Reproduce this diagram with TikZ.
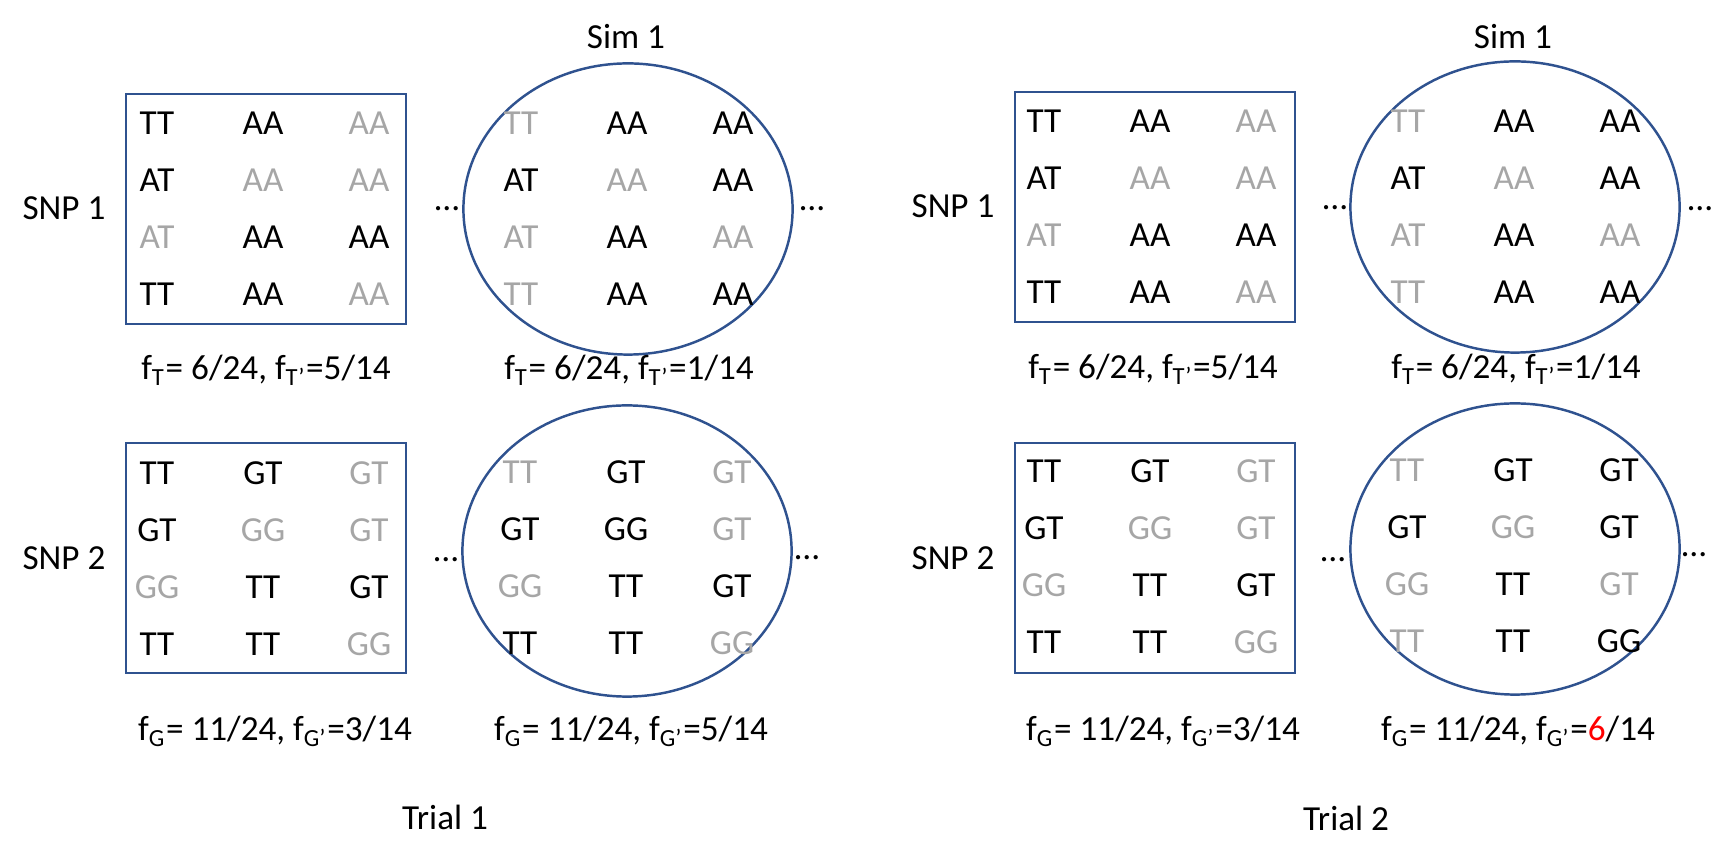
\documentclass[tikz,border=0pt]{standalone}
\usepackage{fontspec}
\setmainfont{Carlito}
\usetikzlibrary{shapes.geometric}
\definecolor{outline}{RGB}{47,82,143}
\definecolor{faded}{RGB}{166,166,166}

\begin{document}
\begin{tikzpicture}[x=0.01cm, y=-0.01cm, every node/.style={font=\fontsize{10}{12}\selectfont, inner sep=0pt},
    panel/.style={draw=outline, line width=0.7pt, rectangle, minimum width=2.80cm, minimum height=2.30cm},
    sim/.style={draw=outline, line width=0.7pt, ellipse, minimum width=3.29cm, minimum height=2.91cm},
    caption/.style={anchor=base}]

        \useasboundingbox (0,0) rectangle (1734,862);

        %===========================
        % Trial 1
        %===========================

        \node (P11) at (266,209) [panel] {};
        \node (E11) at (628,209) [sim] {};
        \node (P12) at (266,558) [panel] {};
        \node (E12) at (627,551) [sim] {};

        \node (S11) at (64,208) {SNP 1};
        \node (S12) at (64,558) {SNP 2};
        \node (M1) at (626,49) [caption] {Sim 1};
        \node (T1) at (445,830) [caption] {Trial 1};

        \node (D11a) at (447,211) [caption] {…};
        \node (D11b) at (812,211) [caption] {…};
        \node (D12a) at (446,562) [caption] {…};
        \node (D12b) at (807,560) [caption] {…};

        \node (F11) at (266,380) [caption] {f\textsubscript{T}= 6/24, f\textsubscript{T’}=5/14};
        \node (G11) at (629,380) [caption] {f\textsubscript{T}= 6/24, f\textsubscript{T’}=1/14};
        \node (F12) at (275,741) [caption] {f\textsubscript{G}= 11/24, f\textsubscript{G’}=3/14};
        \node (G12) at (631,741) [caption] {f\textsubscript{G}= 11/24, f\textsubscript{G’}=5/14};

        % genotypes, row by row
        \foreach \g/\c [count=\i from 0] in {TT/black,AA/black,AA/faded,AT/black,AA/faded,AA/faded,AT/faded,AA/black,AA/black,TT/black,AA/black,AA/faded}{
            \pgfmathtruncatemacro{\row}{\i/3}
            \pgfmathtruncatemacro{\col}{mod(\i,3)}
            \node (A11-\i) at ({263+(\col-1)*106},{209+(\row-1.5)*57}) [text=\c] {\g};
        }
        \foreach \g/\c [count=\i from 0] in {TT/faded,AA/black,AA/black,AT/black,AA/faded,AA/black,AT/faded,AA/black,AA/faded,TT/faded,AA/black,AA/black}{
            \pgfmathtruncatemacro{\row}{\i/3}
            \pgfmathtruncatemacro{\col}{mod(\i,3)}
            \node (B11-\i) at ({627+(\col-1)*106},{209+(\row-1.5)*57}) [text=\c] {\g};
        }
        \foreach \g/\c [count=\i from 0] in {TT/black,GT/black,GT/faded,GT/black,GG/faded,GT/faded,GG/faded,TT/black,GT/black,TT/black,TT/black,GG/faded}{
            \pgfmathtruncatemacro{\row}{\i/3}
            \pgfmathtruncatemacro{\col}{mod(\i,3)}
            \node (A12-\i) at ({263+(\col-1)*106},{559+(\row-1.5)*57}) [text=\c] {\g};
        }
        \foreach \g/\c [count=\i from 0] in {TT/faded,GT/black,GT/faded,GT/black,GG/black,GT/faded,GG/faded,TT/black,GT/black,TT/black,TT/black,GG/faded}{
            \pgfmathtruncatemacro{\row}{\i/3}
            \pgfmathtruncatemacro{\col}{mod(\i,3)}
            \node (B12-\i) at ({626+(\col-1)*106},{558+(\row-1.5)*57}) [text=\c] {\g};
        }

        %===========================
        % Trial 2
        %===========================

        \node (P21) at (1155,207) [panel] {};
        \node (E21) at (1515,207) [sim] {};
        \node (P22) at (1155,558) [panel] {};
        \node (E22) at (1515,549) [sim] {};

        \node (S21) at (953,206) {SNP 1};
        \node (S22) at (953,558) {SNP 2};
        \node (M2) at (1513,49) [caption] {Sim 1};
        \node (T2) at (1346,831) [caption] {Trial 2};

        \node (D21a) at (1335,210) [caption] {…};
        \node (D21b) at (1700,211) [caption] {…};
        \node (D22a) at (1333,562) [caption] {…};
        \node (D22b) at (1694,557) [caption] {…};

        \node (F21) at (1153,379) [caption] {f\textsubscript{T}= 6/24, f\textsubscript{T’}=5/14};
        \node (G21) at (1516,379) [caption] {f\textsubscript{T}= 6/24, f\textsubscript{T’}=1/14};
        \node (F22) at (1163,741) [caption] {f\textsubscript{G}= 11/24, f\textsubscript{G’}=3/14};
        \node (G22) at (1518,741) [caption] {f\textsubscript{G}= 11/24, f\textsubscript{G’}={\color{red}6}/14};

        \foreach \g/\c [count=\i from 0] in {TT/black,AA/black,AA/faded,AT/black,AA/faded,AA/faded,AT/faded,AA/black,AA/black,TT/black,AA/black,AA/faded}{
            \pgfmathtruncatemacro{\row}{\i/3}
            \pgfmathtruncatemacro{\col}{mod(\i,3)}
            \node (A21-\i) at ({1150+(\col-1)*106},{207+(\row-1.5)*57}) [text=\c] {\g};
        }
        \foreach \g/\c [count=\i from 0] in {TT/faded,AA/black,AA/black,AT/black,AA/faded,AA/black,AT/faded,AA/black,AA/faded,TT/faded,AA/black,AA/black}{
            \pgfmathtruncatemacro{\row}{\i/3}
            \pgfmathtruncatemacro{\col}{mod(\i,3)}
            \node (B21-\i) at ({1514+(\col-1)*106},{207+(\row-1.5)*57}) [text=\c] {\g};
        }
        \foreach \g/\c [count=\i from 0] in {TT/black,GT/black,GT/faded,GT/black,GG/faded,GT/faded,GG/faded,TT/black,GT/black,TT/black,TT/black,GG/faded}{
            \pgfmathtruncatemacro{\row}{\i/3}
            \pgfmathtruncatemacro{\col}{mod(\i,3)}
            \node (A22-\i) at ({1150+(\col-1)*106},{557+(\row-1.5)*57}) [text=\c] {\g};
        }
        \foreach \g/\c [count=\i from 0] in {TT/faded,GT/black,GT/black,GT/black,GG/faded,GT/black,GG/faded,TT/black,GT/faded,TT/faded,TT/black,GG/black}{
            \pgfmathtruncatemacro{\row}{\i/3}
            \pgfmathtruncatemacro{\col}{mod(\i,3)}
            \node (B22-\i) at ({1513+(\col-1)*106},{556+(\row-1.5)*57}) [text=\c] {\g};
        }

\end{tikzpicture}
\end{document}
